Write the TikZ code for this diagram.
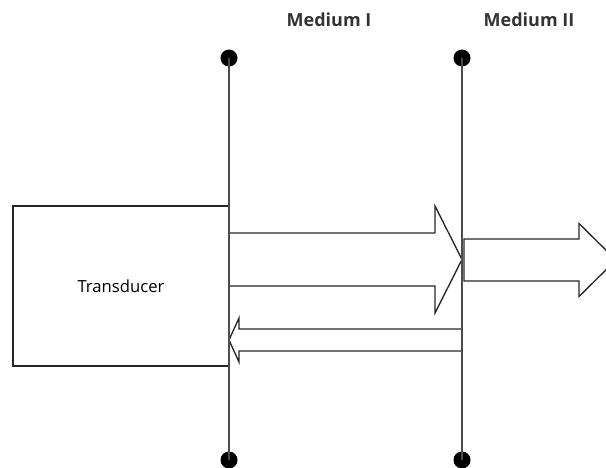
\documentclass[tikz,border=0pt]{standalone}
\usepackage{fontspec}
\setmainfont{Open Sans}
\usetikzlibrary{positioning}

\begin{document}
\begin{tikzpicture}[
  x=0.75pt, y=-0.75pt,
  font=\fontsize{12.5}{15}\selectfont,
  pin/.style={circle,fill=black,inner sep=0pt,minimum size=12.75pt},
  medium/.style={line width=1.3pt,black!70},
  wave/.style={draw=black!85,line width=1pt,fill=white,line join=miter},
  box/.style={draw=black!85,line width=1pt,minimum width=162pt,minimum height=120pt},
  head/.style={font=\fontsize{13.5}{16}\selectfont\bfseries,text=black!80},
]
\useasboundingbox (0,0) rectangle (606,467);

% ---------- transducer ----------
\node[box] (tr) at (121,286) {Transducer};

% ---------- waves ----------
% incident
\draw[wave] (229,233) -- (435,233) -- (435,206) -- (462,259.5)
  -- (435,313) -- (435,286) -- (229,286) -- cycle;
% transmitted
\draw[wave] (464,239) -- (579,239) -- (579,223.5) -- (616,260)
  -- (579,296.5) -- (579,281) -- (464,281) -- cycle;
% reflected
\draw[wave] (462,329) -- (239,329) -- (239,318) -- (229,340)
  -- (239,362) -- (239,351) -- (462,351) -- cycle;

% ---------- media boundaries ----------
\node[pin] (t1) at (229,58) {};
\node[pin] (b1) at (229,460) {};
\node[pin] (t2) at (462,58) {};
\node[pin] (b2) at (462,460) {};
\draw[medium] (t1.center) -- (b1.center);
\draw[medium] (t2.center) -- (b2.center);

\node[head] (m1) at (329,20) {Medium I};
\node[head] (m2) at (529,20) {Medium II};

\end{tikzpicture}
\end{document}
